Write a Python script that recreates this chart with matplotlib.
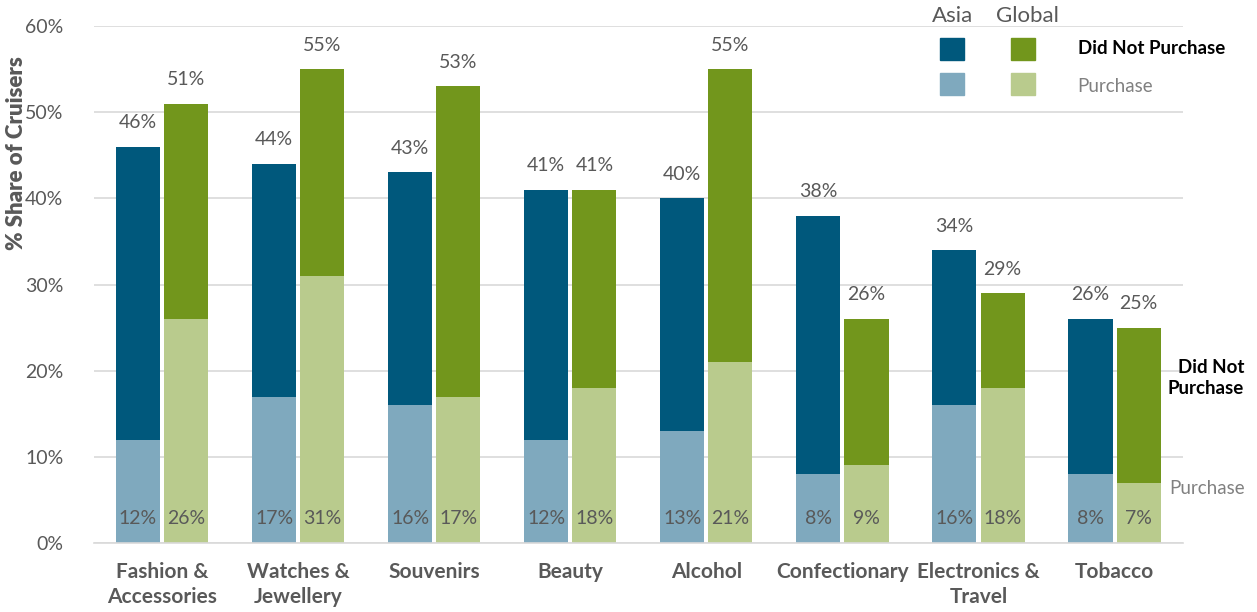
import matplotlib.pyplot as plt
import matplotlib.patches as mpatches
import numpy as np

plt.rcParams['font.family'] = ['Lato', 'DejaVu Sans']

categories = ['Fashion &\nAccessories', 'Watches &\nJewellery', 'Souvenirs', 'Beauty',
              'Alcohol', 'Confectionary', 'Electronics &\nTravel', 'Tobacco']
asia_total = [46, 44, 43, 41, 40, 38, 34, 26]
asia_purchase = [12, 17, 16, 12, 13, 8, 16, 8]
global_total = [51, 55, 53, 41, 55, 26, 29, 25]
global_purchase = [26, 31, 17, 18, 21, 9, 18, 7]

c_asia_dark = '#00587C'
c_asia_light = '#7FA9BE'
c_glob_dark = '#72961C'
c_glob_light = '#B9CB8D'
grey = '#595959'

fig = plt.figure(figsize=(12.57, 6.12), dpi=100)
ax = fig.add_axes([0.0748, 0.1127, 0.866, 0.8448])

x = np.arange(len(categories))
w = 0.324
off = 0.177

asia_np = np.array(asia_total) - np.array(asia_purchase)
glob_np = np.array(global_total) - np.array(global_purchase)

ax.bar(x - off, asia_purchase, w, color=c_asia_light, zorder=2)
ax.bar(x - off, asia_np, w, bottom=asia_purchase, color=c_asia_dark, zorder=2)
ax.bar(x + off, global_purchase, w, color=c_glob_light, zorder=2)
ax.bar(x + off, glob_np, w, bottom=global_purchase, color=c_glob_dark, zorder=2)

for i in range(len(categories)):
    ax.text(x[i] - off, asia_total[i] + 1.8, f'{asia_total[i]}%', ha='center', va='bottom',
            fontsize=14, color=grey)
    ax.text(x[i] + off, global_total[i] + 1.8, f'{global_total[i]}%', ha='center', va='bottom',
            fontsize=14, color=grey)
    ax.text(x[i] - off, 2.8, f'{asia_purchase[i]}%', ha='center', va='center',
            fontsize=14, color=grey)
    ax.text(x[i] + off, 2.8, f'{global_purchase[i]}%', ha='center', va='center',
            fontsize=14, color=grey)

ax.set_xlim(-0.5, 7.5)
ax.set_ylim(0, 60)
ax.set_yticks(range(0, 61, 10))
ax.set_yticklabels([f'{v}%' for v in range(0, 61, 10)], fontsize=14, color=grey)
ax.set_xticks(x)
ax.set_xticklabels(categories, fontsize=15, fontweight='bold', color=grey, linespacing=1.3)
ax.tick_params(axis='both', length=0)
ax.tick_params(axis='y', pad=22)
ax.tick_params(axis='x', pad=14)
ax.set_ylabel('% Share of Cruisers', fontsize=16, fontweight='heavy', color=grey)
ax.yaxis.set_label_coords(-0.062, 0.755)

ax.grid(axis='y', color='#D9D9D9', linewidth=1.2, zorder=0)
for s in ['top', 'right', 'left']:
    ax.spines[s].set_visible(False)
ax.spines['bottom'].set_color('#D9D9D9')
ax.spines['bottom'].set_linewidth(1.2)

# legend drawn by hand
def px(xp, yp):
    return fig.transFigure.inverted().transform(
        fig.dpi_scale_trans.transform((xp / 100, (612 - yp) / 100)))

for (xp, yp, c) in [(940, 38, c_asia_dark), (1011, 38, c_glob_dark),
                    (940, 73, c_asia_light), (1011, 73, c_glob_light)]:
    x0, y0 = px(xp, yp + 22)
    x1, y1 = px(xp + 24, yp)
    fig.patches.append(mpatches.Rectangle((x0, y0), x1 - x0, y1 - y0,
                                          transform=fig.transFigure, color=c))

fx, fy = px(953, 16)
fig.text(fx, fy, 'Asia', fontsize=16, color=grey, ha='center', va='center')
fx, fy = px(1027, 16)
fig.text(fx, fy, 'Global', fontsize=16, color=grey, ha='center', va='center')
fx, fy = px(1078, 48)
fig.text(fx, fy, 'Did Not Purchase', fontsize=13.5, fontweight='bold', color='black',
         ha='left', va='center')
fx, fy = px(1077, 86)
fig.text(fx, fy, 'Purchase', fontsize=13.5, color='#808080', ha='left', va='center')

fx, fy = px(1244, 378)
fig.text(fx, fy, 'Did Not\nPurchase', fontsize=13.5, fontweight='bold', color='black',
         ha='right', va='center', linespacing=1.3)
fx, fy = px(1245, 489)
fig.text(fx, fy, 'Purchase', fontsize=13.5, color='#808080', ha='right', va='center')

fig.savefig('out.png', dpi=100)
